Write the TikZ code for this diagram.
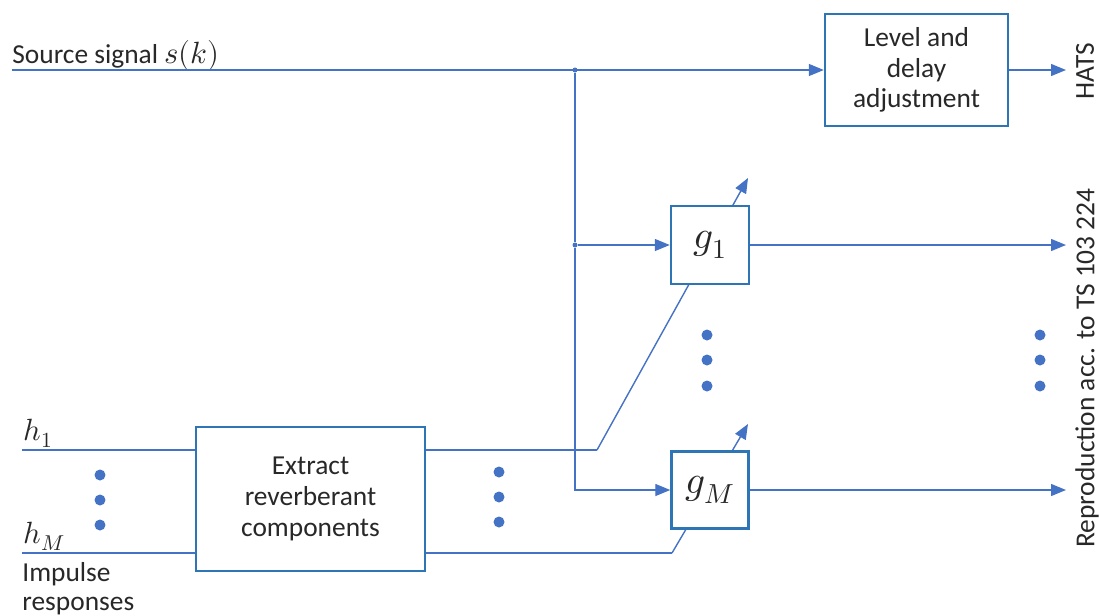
\documentclass[tikz,border=0pt]{standalone}
\usepackage{fontspec}
\usepackage{unicode-math}
\setmainfont{Carlito}
\setmathfont{Latin Modern Math}[Scale=1.12]
\usetikzlibrary{arrows.meta}
\definecolor{wire}{RGB}{68,114,196}
\definecolor{frame}{RGB}{46,117,182}
\definecolor{txt}{RGB}{40,40,40}
\tikzset{
	block/.style = {draw = frame, line width = 1.4pt, fill = white, align = center, text = txt, inner sep = 0pt},
	sig/.style = {draw = wire, line width = 0.8pt},
	arr/.style = {sig, -{Triangle[length = 0.3cm, width = 0.24cm]}},
	lbl/.style = {text = txt, inner sep = 0pt},
	vdot/.style = {circle, fill = wire, inner sep = 0pt, minimum size = 0.22cm},
	joint/.style = {circle, fill = wire, inner sep = 0pt, minimum size = 0.1cm}
}
\newcommand{\gainfont}{\fontsize{20}{20}\selectfont}
\begin{document}
\begin{tikzpicture}[x = 0.02cm, y = -0.02cm, font = \fontsize{15.6}{17.5}\selectfont]
	\useasboundingbox (0, 0) rectangle (1100, 616);
	% Coordinates
	\coordinate (srcL) at (12, 70);
	\coordinate (h1L) at (22, 450);
	\coordinate (hML) at (22, 553);
	\coordinate (k1) at (597, 450);
	\coordinate (kM) at (672, 553);
	\coordinate (t1) at (748, 178);
	\coordinate (tM) at (748, 424);
	\coordinate (out0) at (1066, 70);
	\coordinate (out1) at (1066, 245);
	\coordinate (outM) at (1066, 490);
	
	% Gain arrows (behind the gain blocks)
	\draw[arr] (k1) -- (t1);
	\draw[arr] (kM) -- (tM);
	
	% Nodes
	\node[block, minimum width = 3.66cm, minimum height = 2.24cm] (level) at (916.5, 70) {Level and\\delay\\adjustment};
	\node[block, minimum width = 4.58cm, minimum height = 2.88cm] (extract) at (310.5, 499) {Extract\\reverberant\\components};
	\node[block, minimum size = 1.56cm] (g1) at (710, 245) {\gainfont$g_1$};
	\node[block, minimum size = 1.54cm] (gM) at (710, 490) {\gainfont$g_M$};
	
	\node[lbl, anchor = base west] (src) at (12, 63) {Source signal $s(k)$};
	\node[lbl, anchor = base west] (h1) at (23, 440) {$h_1$};
	\node[lbl, anchor = base west] (hM) at (23, 543) {$h_M$};
	\node[lbl, anchor = north west, align = left, font = \fontsize{15.6}{16.5}\selectfont] (imp) at (22, 562) {Impulse\\responses};
	\node[lbl, rotate = 90] (hats) at (1085, 71) {HATS};
	\node[lbl, rotate = 90] (repro) at (1087, 368) {Reproduction acc. to TS 103 224};
	
	\node[joint] (j1) at (575, 70) {};
	\node[joint] (j2) at (575, 245) {};
	
	% Dots
	\foreach \y in {475, 500, 525} \node[vdot] at (100, \y) {};
	\foreach \y in {472, 497, 522} \node[vdot] at (499, \y) {};
	\foreach \y in {335, 360, 386} {
		\node[vdot] at (707, \y) {};
		\node[vdot] at (1040, \y) {};
	}
	
	% Edges
	\draw[arr] (srcL) -- (level.west);
	\draw[arr] (level.east) -- (out0);
	\draw[sig] (j1) -- (j2);
	\draw[arr] (j2) -- (g1.west);
	\draw[arr] (j2) |- (gM.west);
	\draw[arr] (g1.east) -- (out1);
	\draw[arr] (gM.east) -- (outM);
	\draw[sig] (h1L) -- (extract.west |- h1L);
	\draw[sig] (hML) -- (extract.west |- hML);
	\draw[sig] (extract.east |- k1) -- (k1);
	\draw[sig] (extract.east |- kM) -- (kM);
\end{tikzpicture}
\end{document}
